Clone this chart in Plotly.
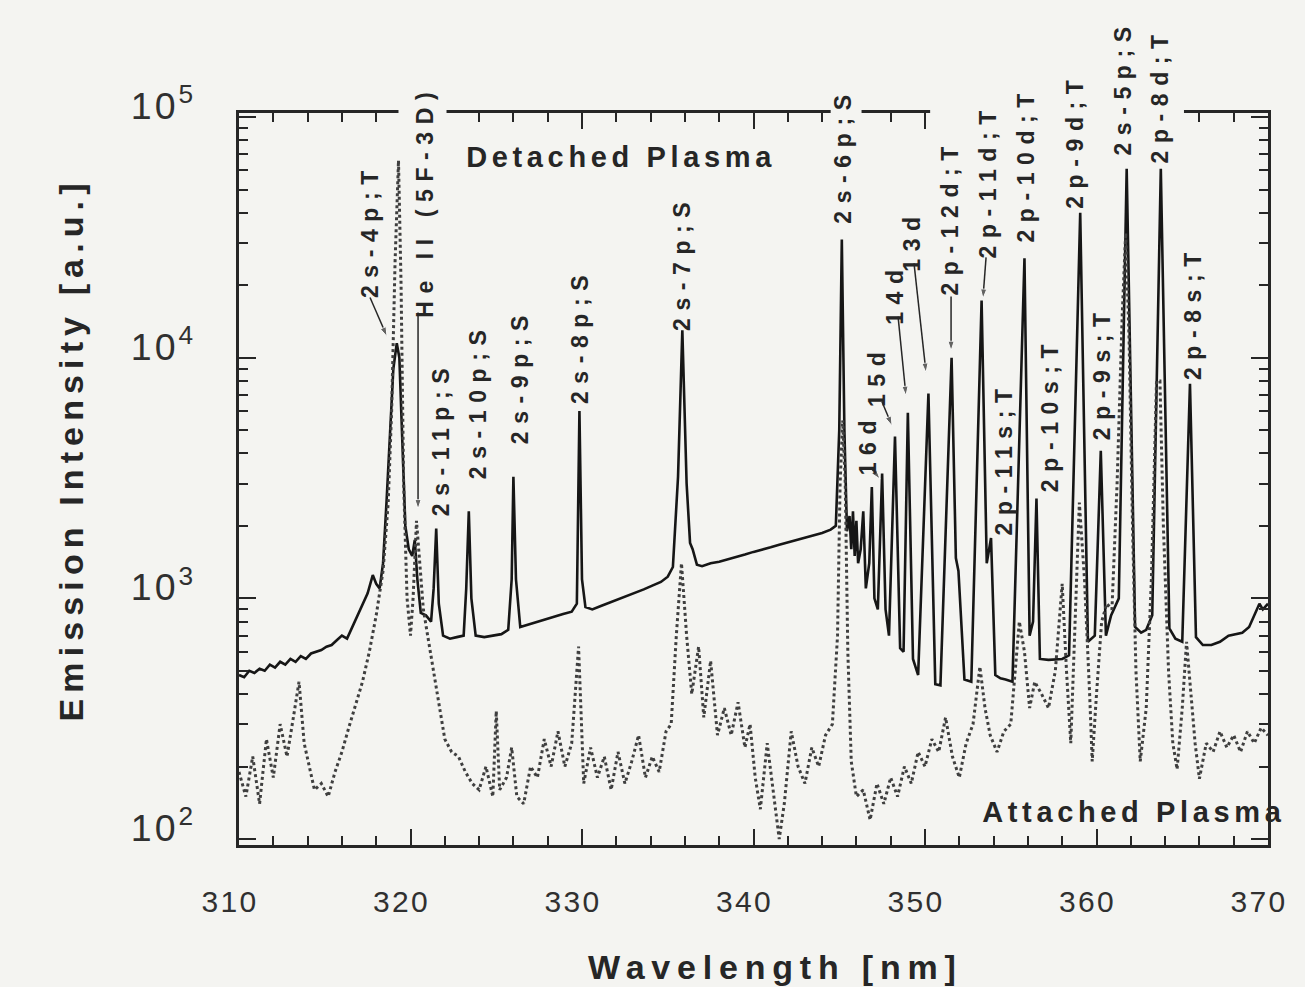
import math
import plotly.graph_objects as go

# ---------------- data ----------------
# Detached plasma (solid line)
det_wavelength = [
    310.0, 310.3, 310.6, 310.9, 311.2, 311.5, 311.8, 312.1, 312.4, 312.7,
    313.0, 313.3, 313.6, 313.9, 314.2, 314.5, 314.8, 315.1, 315.4, 315.7,
    316.0, 316.3, 316.6, 316.9, 317.2, 317.5, 317.8, 318.0, 318.2, 318.4,
    318.6, 318.8, 319.0, 319.2, 319.35, 319.5, 319.7, 319.9, 320.1, 320.25,
    320.4, 320.6, 320.9, 321.2, 321.35, 321.5, 321.65, 321.9, 322.3, 322.7,
    323.1, 323.25, 323.4, 323.55, 323.8, 324.3, 324.8, 325.3, 325.7, 325.9,
    326.0, 326.15, 326.4, 326.9, 327.4, 327.9, 328.4, 328.9, 329.4, 329.7,
    329.85, 330.0, 330.2, 330.6, 331.1, 331.6, 332.1, 332.6, 333.1, 333.6,
    334.1, 334.6, 335.0, 335.3, 335.6, 335.85, 336.1, 336.3, 336.45, 336.7,
    337.0, 337.5, 338.0, 338.5, 339.0, 339.5, 340.0, 340.5, 341.0, 341.5,
    342.0, 342.5, 343.0, 343.5, 344.0, 344.5, 344.8, 345.0, 345.15, 345.3,
    345.45, 345.6, 345.7, 345.8, 345.9, 346.0, 346.1, 346.25, 346.4, 346.55,
    346.75, 346.9, 347.05, 347.25, 347.5, 347.7, 347.9, 348.25, 348.55, 348.75,
    349.0, 349.3, 349.6, 350.2, 350.6, 350.9, 351.55, 351.8, 351.95, 352.3,
    352.7, 353.3, 353.6, 353.85, 354.1, 354.4, 354.7, 355.1, 355.8, 356.1,
    356.3, 356.5, 356.7, 357.2, 357.7, 358.0, 358.4, 359.05, 359.5, 359.9,
    360.25, 360.55, 360.85, 361.3, 361.76, 362.25, 362.6, 362.9, 363.25, 363.75,
    364.25, 364.6, 365.0, 365.45, 365.8, 366.2, 366.7, 367.2, 367.7, 368.1,
    368.5, 368.9, 369.2, 369.5, 369.7, 370.0,
]
det_intensity = [
    480, 470, 500, 490, 510, 500, 530, 515, 545, 530,
    560, 545, 575, 560, 590, 600, 610, 630, 640, 670,
    700, 680, 760, 850, 950, 1050, 1250, 1150, 1100, 1400,
    2500, 5000, 9000, 11500, 10000, 5000, 2000, 1600, 1500, 1750,
    1200, 870, 850, 800, 1100, 1950, 950, 700, 680, 690,
    700, 1100, 2300, 1000, 700, 690, 700, 710, 740, 1200,
    3200, 1200, 760, 780, 800, 820, 840, 860, 880, 950,
    6000, 1200, 920, 900, 930, 960, 990, 1020, 1050, 1090,
    1130, 1170, 1230, 1350, 3200, 13000, 3000, 1700, 1600, 1380,
    1360, 1400, 1420, 1450, 1490, 1520, 1560, 1600, 1630, 1670,
    1710, 1750, 1790, 1830, 1870, 1930, 2000, 5000, 31000, 5000,
    1900, 2200, 1600, 2300, 1500, 2100, 1400, 1600, 2300, 1100,
    1400, 2900, 1000, 900, 3300, 900, 700, 4700, 620, 600,
    5900, 560, 480, 7100, 440, 435, 10000, 1470, 1300, 460,
    450, 17300, 1400, 1780, 480, 465, 460, 450, 25900, 700,
    800, 2600, 560, 555, 560, 560, 580, 40000, 660, 700,
    4100, 700, 850, 1000, 61000, 760, 720, 740, 850, 61000,
    750, 680, 660, 7800, 690, 640, 640, 660, 700, 710,
    720, 760, 850, 950, 900, 950,
]

# Attached plasma (dotted line)
att_wavelength = [
    310.0, 310.4, 310.8, 311.2, 311.6, 312.0, 312.4, 312.8, 313.2, 313.5,
    313.8, 314.1, 314.4, 314.8, 315.2, 315.6, 316.0, 316.4, 316.8, 317.2,
    317.6, 318.0, 318.4, 318.7, 318.9, 319.1, 319.3, 319.45, 319.6, 319.8,
    320.0, 320.15, 320.35, 320.55, 320.75, 321.0, 321.3, 321.6, 322.0, 322.4,
    322.8, 323.2, 323.6, 324.0, 324.4, 324.8, 325.0, 325.2, 325.6, 325.9,
    326.2, 326.6, 327.0, 327.4, 327.8, 328.2, 328.6, 329.0, 329.4, 329.8,
    330.1, 330.5, 330.9, 331.3, 331.7, 332.1, 332.5, 332.9, 333.3, 333.7,
    334.1, 334.5, 334.9, 335.2, 335.5, 335.8, 336.1, 336.4, 336.8, 337.1,
    337.5, 337.9, 338.3, 338.7, 339.1, 339.5, 339.8, 340.1, 340.4, 340.8,
    341.2, 341.5, 341.8, 342.2, 342.6, 343.0, 343.4, 343.8, 344.2, 344.6,
    344.9, 345.05, 345.2, 345.35, 345.5, 345.7, 346.0, 346.4, 346.8, 347.2,
    347.6, 348.0, 348.4, 348.8, 349.2, 349.6, 350.0, 350.4, 350.8, 351.2,
    351.6, 352.0, 352.4, 352.8, 353.2, 353.5, 353.8, 354.2, 354.6, 355.0,
    355.5, 355.8, 356.1, 356.4, 356.8, 357.2, 357.6, 358.0, 358.25, 358.5,
    359.0, 359.3, 359.6, 359.75, 360.0, 360.3, 360.6, 360.9, 361.2, 361.5,
    361.7, 361.9, 362.1, 362.3, 362.55, 362.9, 363.2, 363.5, 363.7, 363.9,
    364.2, 364.45, 364.7, 365.0, 365.25, 365.5, 365.75, 366.0, 366.4, 366.8,
    367.2, 367.6, 368.0, 368.4, 368.8, 369.2, 369.6, 370.0,
]
att_intensity = [
    190, 150, 220, 140, 260, 180, 300, 220, 330, 450,
    250, 200, 160, 170, 150, 190, 230, 290, 360, 450,
    600, 850, 1300, 2500, 6000, 25000, 66000, 20000, 3000, 1000,
    700, 1000, 2100, 1400, 900, 700, 520, 380, 260, 230,
    220, 190, 170, 160, 200, 150, 340, 160, 180, 240,
    150, 140, 200, 180, 260, 200, 280, 200, 250, 630,
    170, 240, 180, 220, 160, 230, 170, 210, 270, 180,
    220, 190, 280, 300, 700, 1400, 700, 400, 630, 320,
    550, 270, 350, 270, 370, 240, 300, 180, 133, 250,
    150, 100, 141, 280, 200, 170, 240, 200, 270, 300,
    700, 3000, 5500, 3000, 600, 210, 150, 160, 120, 170,
    140, 180, 150, 200, 170, 230, 200, 260, 230, 320,
    220, 180, 250, 300, 520, 350, 270, 230, 280, 300,
    800, 600, 350, 450, 400, 350, 500, 1150, 500, 250,
    2500, 1200, 400, 210, 400, 800, 950, 900, 3000, 15000,
    33000, 12000, 2000, 500, 210, 350, 1200, 8000, 8000, 2000,
    500, 250, 195, 350, 660, 400, 250, 178, 250, 230,
    280, 240, 270, 230, 280, 250, 290, 270,
]

# Line identification labels: text, wavelength of label centre, log10 height of label centre
line_labels = [
    "2s-4p;T", "He II (5F-3D)", "2s-11p;S", "2s-10p;S", "2s-9p;S", "2s-8p;S",
    "2s-7p;S", "2s-6p;S", "16d", "15d", "14d", "13d", "2p-12d;T", "2p-11d;T",
    "2p-11s;T", "2p-10d;T", "2p-10s;T", "2p-9d;T", "2p-9s;T", "2s-5p;S",
    "2p-8d;T", "2p-8s;T",
]
label_wavelength = [
    317.64, 320.85, 321.78, 323.94, 326.38, 329.88,
    335.83, 345.22, 346.68, 347.20, 348.25, 349.24, 351.46, 353.67,
    354.61, 355.89, 357.29, 358.75, 360.32, 361.55,
    363.70, 365.63,
]
label_logy = [
    4.529, 4.650, 3.663, 3.821, 3.925, 4.092,
    4.396, 4.838, 3.642, 3.925, 4.267, 4.488, 4.584, 4.738,
    3.579, 4.804, 3.763, 4.900, 3.938, 5.121,
    5.092, 4.188,
]

# Pointer arrows: tail (label end) -> head (line)
arrow_tail_x = [317.64, 320.44, 346.85, 347.49, 348.43, 349.36, 351.52, 353.56]
arrow_tail_logy = [4.250, 4.188, 3.542, 3.817, 4.171, 4.392, 4.254, 4.417]
arrow_head_x = [318.63, 320.44, 347.38, 348.08, 348.89, 350.06, 351.52, 353.38]
arrow_head_logy = [4.088, 3.371, 3.496, 3.717, 3.842, 3.938, 4.029, 4.246]

# Places where the labels interrupt the top frame
frame_gap_start = [319.3, 344.5, 350.3]
frame_gap_end = [322.1, 346.3, 365.1]

Y_LOG_RANGE = [1.975, 5.017]
BG = "#f4f4f1"
INK = "#262626"
FONT = "Liberation Sans"

fig = go.Figure()
fig.add_trace(go.Scatter(
    x=det_wavelength, y=det_intensity, mode="lines",
    line=dict(color="#161616", width=2.6), name="Detached Plasma",
))
fig.add_trace(go.Scatter(
    x=att_wavelength, y=att_intensity, mode="lines",
    line=dict(color="#3f3f3f", width=3, dash="dot"), name="Attached Plasma",
))

# pointer arrows: one trace, segments separated by gaps, arrow marker at each head
ax_pts, ay_pts, msize = [], [], []
for tx, ty, hx, hy in zip(arrow_tail_x, arrow_tail_logy, arrow_head_x, arrow_head_logy):
    ax_pts += [tx, hx, None]
    ay_pts += [10 ** ty, 10 ** hy, None]
    msize += [0, 10, 0]
fig.add_trace(go.Scatter(
    x=ax_pts, y=ay_pts, mode="lines+markers", connectgaps=False,
    line=dict(color=INK, width=1.5),
    marker=dict(symbol="arrow", size=msize, color=INK, angleref="previous"),
    hoverinfo="skip", name="pointers",
))


def to_paper(ly):
    return (ly - Y_LOG_RANGE[0]) / (Y_LOG_RANGE[1] - Y_LOG_RANGE[0])


annotations = []
for t, x, ly in zip(line_labels, label_wavelength, label_logy):
    annotations.append(dict(
        x=x, y=to_paper(ly), xref="x", yref="paper", text=t, showarrow=False,
        textangle=-90, xanchor="center", yanchor="middle", name="0.33em",
        font=dict(family=FONT, size=23, color=INK, weight="bold"),
    ))
annotations.append(dict(
    x=332.33, y=to_paper(4.834), xref="x", yref="paper", text="Detached Plasma",
    showarrow=False, xanchor="center", yanchor="middle", name="0.16em",
    font=dict(family=FONT, size=29, color=INK, weight="bold"),
))
annotations.append(dict(
    x=362.2, y=to_paper(2.113), xref="x", yref="paper", text="Attached Plasma",
    showarrow=False, xanchor="center", yanchor="middle", name="0.16em",
    font=dict(family=FONT, size=29, color=INK, weight="bold"),
))
# axis titles placed as annotations
annotations.append(dict(
    x=-0.164, y=0.54, xref="paper", yref="paper", text="Emission Intensity [a.u.]",
    showarrow=False, textangle=-90, xanchor="center", yanchor="middle", name="0.18em",
    font=dict(family=FONT, size=34, color=INK, weight="bold"),
))
annotations.append(dict(
    x=0.521, y=-0.167, xref="paper", yref="paper", text="Wavelength [nm]",
    showarrow=False, xanchor="center", yanchor="middle", name="0.2em",
    font=dict(family=FONT, size=34, color=INK, weight="bold"),
))

shapes = []
for a, b in zip(frame_gap_start, frame_gap_end):
    shapes.append(dict(
        type="rect", xref="x", yref="paper", x0=a, x1=b, y0=0.976, y1=1.02,
        fillcolor=BG, line=dict(width=0), layer="above",
    ))

axis_common = dict(
    showline=True, linewidth=2.6, linecolor=INK, mirror="ticks",
    ticks="inside", tickwidth=2.4, tickcolor=INK, showgrid=False, zeroline=False,
    tickfont=dict(family=FONT, size=30, color="#303030"),
)

fig.update_layout(
    width=1305, height=987,
    margin=dict(l=239, r=37, t=113, b=142),
    paper_bgcolor=BG, plot_bgcolor=BG,
    showlegend=False,
    annotations=annotations,
    shapes=shapes,
    xaxis=dict(
        range=[310, 370], tick0=310, dtick=10, ticklen=16,
        minor=dict(dtick=2, ticks="inside", ticklen=9, tickwidth=2, tickcolor=INK),
        ticklabelstandoff=28, ticklabelshift=-9,
        **axis_common,
    ),
    yaxis=dict(
        type="log", range=Y_LOG_RANGE, dtick=1, exponentformat="power",
        ticklen=17,
        minor=dict(ticks="inside", ticklen=9, tickwidth=2, tickcolor=INK),
        ticklabelstandoff=34, ticklabelshift=-11,
        **axis_common,
    ),
)

post = """
document.body.style.margin = '0';
document.body.style.overflow = 'hidden';
var gd = document.getElementById('{plot_id}');
gd.querySelectorAll('g.annotation').forEach(function(g){
  var i = +g.getAttribute('data-index');
  var a = gd.layout.annotations[i];
  var t = g.querySelector('text.annotation-text');
  if (t && a && a.name) { t.style.letterSpacing = a.name; }
});
gd.querySelectorAll('.xtick text, .ytick text').forEach(function(t){ t.style.letterSpacing = '0.08em'; });
"""

fig.write_html("out.html", post_script=post, config={"displayModeBar": False})
